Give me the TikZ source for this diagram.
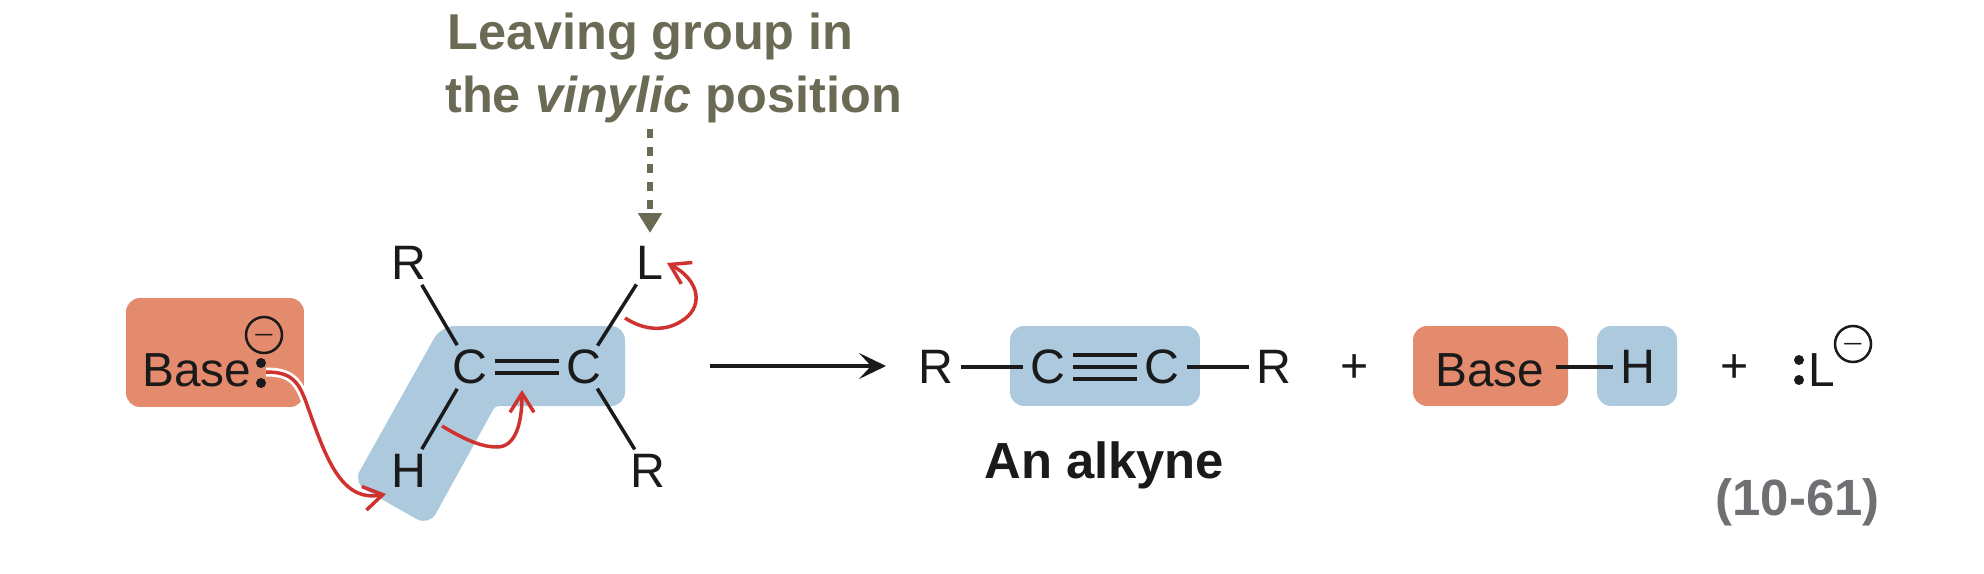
\documentclass[tikz,border=0pt]{standalone}
\usepackage{fontspec}
\setmainfont{Liberation Sans}
\usetikzlibrary{arrows.meta}

\definecolor{basecol}{HTML}{E58B6D}
\definecolor{alkcol}{HTML}{ACC9DE}
\definecolor{notecol}{HTML}{6B6A55}
\definecolor{curlcol}{HTML}{D0332F}
\definecolor{numcol}{HTML}{6F7073}
\definecolor{inkcol}{HTML}{1A1A1A}

\tikzset{
  atom/.style={circle,inner sep=0pt,minimum size=1.0cm,text=inkcol,font=\fontsize{27.5}{30}\selectfont},
  plain/.style={inner sep=0pt,anchor=base west,text=inkcol,font=\fontsize{27.2}{30}\selectfont},
  word/.style={inner sep=0pt,anchor=base west,font=\fontsize{28.9}{30}\selectfont\bfseries},
  bond/.style={line width=0.07cm,draw=inkcol},
  curl/.style={line width=0.07cm,draw=curlcol,-{Straight Barb[length=0.38cm,width=0.48cm,line width=0.07cm]}},
  patch/.style={rounded corners=0.28cm,inner sep=0pt},
  lonedot/.style={circle,fill=inkcol,inner sep=0pt,minimum size=0.2cm},
  chg/.style={circle,draw=inkcol,line width=0.05cm,inner sep=0pt,minimum size=0.72cm,text=inkcol,font=\fontsize{14}{14}\selectfont\boldmath},
}

\begin{document}
\begin{tikzpicture}[x=0.02cm,y=-0.02cm]

\useasboundingbox (0,0) rectangle (1984,574);

\fill[alkcol,rounded corners=0.28cm] (441,326) -- (625,326) -- (625,406) -- (498,406) [rounded corners=0.08cm] -- (495,406) -- (493,410) [rounded corners=0.28cm] -- (429,526) -- (353,483) -- cycle;
\node[patch,fill=basecol,minimum width=3.56cm,minimum height=2.18cm] (basebox) at (215,352.5) {};
\node[patch,fill=alkcol,minimum width=3.8cm,minimum height=1.6cm] (alkbox) at (1105,366) {};
\node[patch,fill=basecol,minimum width=3.1cm,minimum height=1.6cm] (baseboxb) at (1490.5,366) {};
\node[patch,fill=alkcol,minimum width=1.6cm,minimum height=1.6cm] (hbox) at (1637,366) {};

\node[plain] (basea) at (142,386) {Base};
\node[lonedot] (dota) at (261,363) {};
\node[lonedot] (dotb) at (261,383) {};
\node[chg] (chga) at (264,335) {$-$};

\node[atom] (rtop) at (409,263) {R};
\node[atom] (ltop) at (650,263) {L};
\node[atom] (cl) at (470,367) {C};
\node[atom] (cr) at (584,367) {C};
\node[atom] (hl) at (409,471) {H};
\node[atom] (rbot) at (648,471) {R};

\draw[bond] (rtop) -- (cl);
\draw[bond] (ltop) -- (cr);
\draw[bond] (cl) -- (hl);
\draw[bond] (cr) -- (rbot);
\draw[bond] ([yshift=0.12cm]cl.east) -- ([yshift=0.12cm]cr.west);
\draw[bond] ([yshift=-0.12cm]cl.east) -- ([yshift=-0.12cm]cr.west);

\coordinate (lonepair) at (266,372);
\coordinate (hit) at (386,494);
\coordinate (bondfrom) at (442,426);
\coordinate (bondto) at (522,390);
\coordinate (lfrom) at (625,318);
\coordinate (lto) at (667,263);

\draw[white,line width=0.18cm] (lonepair) .. controls (290,372) and (298,380) .. (306,402);
\draw[curl] (lonepair) .. controls (290,372) and (298,380) .. (306,402) .. controls (325,455) and (340,503) .. (hit);
\draw[curl] (bondfrom) .. controls (470,443) and (485,447) .. (497,447) .. controls (515,447) and (522,425) .. (bondto);
\draw[curl] (lfrom) .. controls (645,331) and (665,331) .. (680,322) .. controls (705,308) and (700,280) .. (lto);

\node[word,text=notecol,font=\fontsize{28.7}{30}\selectfont\bfseries] (notea) at (447,50) {Leaving group in};
\node[word,text=notecol,font=\fontsize{28.7}{30}\selectfont\bfseries] (noteb) at (445,113) {the \textit{vinylic} position};
\coordinate (notefoot) at (650,129);
\coordinate (lhead) at (650,233);
\draw[notecol,line width=0.12cm,dash pattern=on 0.18cm off 0.174cm,-{Triangle[length=0.4cm,width=0.46cm]}] (notefoot) -- (lhead);

\coordinate (rxnfrom) at (710,366);
\coordinate (rxnto) at (886,366);
\draw[bond,-{Stealth[length=0.54cm,width=0.52cm,inset=0.24cm]}] (rxnfrom) -- (rxnto);

\node[atom] (ra) at (936,367) {R};
\node[atom] (ca) at (1048,367) {C};
\node[atom] (cb) at (1162,367) {C};
\node[atom] (rb) at (1274,367) {R};
\draw[bond] (ra) -- (ca);
\draw[bond] (ca) -- (cb);
\draw[bond] ([yshift=0.24cm]ca.east) -- ([yshift=0.24cm]cb.west);
\draw[bond] ([yshift=-0.24cm]ca.east) -- ([yshift=-0.24cm]cb.west);
\draw[bond] (cb) -- (rb);

\node[word,text=inkcol] (alkname) at (984,478) {An alkyne};

\node[atom] (plusa) at (1355,369) {+};
\node[plain] (baseb) at (1435,386) {Base};
\node[atom] (hb) at (1638,367) {H};
\draw[bond] (baseb.east |- hb) ++(11,0) coordinate (bondb) -- (hb);

\node[atom] (plusb) at (1735,369) {+};
\node[lonedot] (dotc) at (1799,360) {};
\node[lonedot] (dotd) at (1799,380) {};
\node[plain] (lb) at (1808,386) {L};
\node[chg] (chgb) at (1853,344) {$-$};

\node[inner sep=0pt,anchor=base east,text=numcol,font=\fontsize{29}{30}\selectfont\bfseries] (eqno) at (1880,515) {(10-61)};

\end{tikzpicture}
\end{document}
